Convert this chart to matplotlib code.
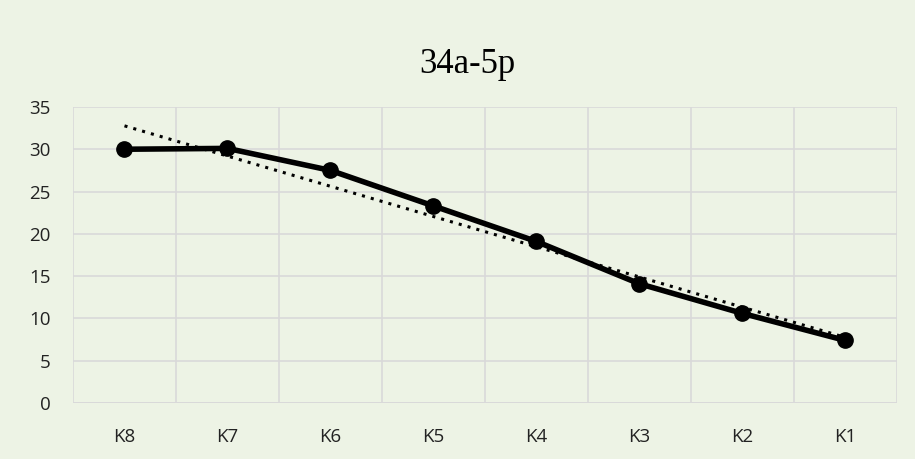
import matplotlib.pyplot as plt
import numpy as np

categories = ['K8', 'K7', 'K6', 'K5', 'K4', 'K3', 'K2', 'K1']
values = [30.0, 30.1, 27.5, 23.3, 19.1, 14.1, 10.6, 7.4]
y_ticks = [0, 5, 10, 15, 20, 25, 30, 35]
title = '34a-5p'

bg = '#EDF3E5'
fig = plt.figure(figsize=(9.15, 4.59), dpi=100, facecolor=bg)
ax = fig.add_axes([0.0798, 0.122, 0.9002, 0.645])
ax.set_facecolor('none')

x = np.arange(len(categories))
ax.plot(x, values, color='black', lw=4, marker='o', ms=11, zorder=4)

# linear trendline
slope, intercept = np.polyfit(x, values, 1)
ax.plot(x, slope * x + intercept, color='black', lw=2.2, ls=(0, (1, 2)),
        zorder=3)

ax.set_xlim(-0.5, len(categories) - 0.5)
ax.set_ylim(0, 35)
ax.set_yticks(y_ticks)
ax.set_xticks(x)
ax.set_xticklabels(categories)
ax.set_xticks(np.arange(-0.5, len(categories)), minor=True)
ax.grid(True, axis='y', color='#D9D9D9', lw=1.2)
ax.grid(True, axis='x', which='minor', color='#D9D9D9', lw=1.2)
ax.tick_params(which='both', length=0)
ax.tick_params(axis='y', pad=16, labelsize=13.5)
ax.tick_params(axis='x', pad=18, labelsize=13.5)
for lab in ax.get_xticklabels() + ax.get_yticklabels():
    lab.set_fontfamily('Open Sans')
    lab.set_color('#222222')
for s in ax.spines.values():
    s.set_visible(False)
ax.axhline(0, color='#D9D9D9', lw=1.2, zorder=2)

fig.text(0.511, 0.86, title, ha='center', va='center', fontsize=25,
         family='Liberation Serif')

fig.savefig('out.png', dpi=100, facecolor=bg)
